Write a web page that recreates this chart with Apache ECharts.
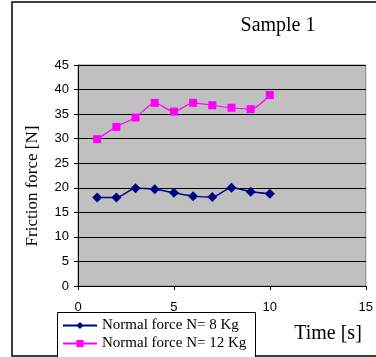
<!DOCTYPE html>
<html><head><meta charset="utf-8">
<script src="https://cdn.jsdelivr.net/npm/echarts@6/dist/echarts.min.js"></script>
<style>html,body{margin:0;padding:0;background:#fff}#c{width:376px;height:357px}</style>
</head><body><div id="c"></div>
<script>
var times = [1, 2, 3, 4, 5, 6, 7, 8, 9, 10];
var force8 = [18.0, 18.0, 19.9, 19.7, 19.0, 18.3, 18.1, 20.0, 19.2, 18.8];
var force12 = [29.9, 32.4, 34.3, 37.3, 35.5, 37.3, 36.8, 36.3, 36.0, 38.9];
var seriesNames = ['Normal force N= 8 Kg', 'Normal force N= 12 Kg'];
var xTicks = [0, 5, 10, 15];
var yTicks = [0, 5, 10, 15, 20, 25, 30, 35, 40, 45];

function pairs(xs, ys) { return xs.map(function (x, i) { return [x, ys[i]]; }); }

var chart = echarts.init(document.getElementById('c'));
chart.setOption({
  animation: false,
  backgroundColor: '#fff',
  title: [{
    text: 'Sample 1', left: 273, top: 11, textAlign: 'center',
    textStyle: { fontFamily: 'Liberation Serif', fontSize: 20, fontWeight: 'normal', color: '#000' }
  }, {
    text: 'Time [s]', left: 323, top: 319, textAlign: 'center',
    textStyle: { fontFamily: 'Liberation Serif', fontSize: 20, fontWeight: 'normal', color: '#000' }
  }],
  graphic: [{
    type: 'rect', shape: { x: 12, y: 2, width: 420, height: 354 },
    style: { fill: 'none', stroke: '#000', lineWidth: 1.5 }, silent: true, z: -1
  }, {
    type: 'rect', shape: { x: 57.5, y: 312.5, width: 198, height: 60 },
    style: { fill: '#fff', stroke: '#000', lineWidth: 1 }, silent: true, z: 1
  }, {
    type: 'text', x: 33, y: 186, rotation: Math.PI / 2,
    style: { text: 'Friction force [N]', font: '17px "Liberation Serif"', fill: '#000', textAlign: 'center', textVerticalAlign: 'middle' }
  }],
  legend: {
    orient: 'vertical', left: 57, top: 312, z: 10,
    padding: [6, 8, 0, 5], itemGap: 3, itemWidth: 34, itemHeight: 9,
    textStyle: { fontFamily: 'Liberation Serif', fontSize: 15, color: '#000' },
    data: seriesNames
  },
  grid: { left: 78, right: 4, top: 65, bottom: 71, show: true, backgroundColor: '#C0C0C0', borderColor: '#808080', borderWidth: 1 },
  xAxis: {
    type: 'value', min: xTicks[0], max: xTicks[xTicks.length - 1], interval: 5,
    axisLine: { onZero: false, lineStyle: { color: '#000' } },
    axisTick: { show: true, length: 4, lineStyle: { color: '#000' } },
    axisLabel: { fontFamily: 'Liberation Sans', fontSize: 13, color: '#000', margin: 15 },
    splitLine: { show: false }
  },
  yAxis: {
    type: 'value', min: yTicks[0], max: yTicks[yTicks.length - 1], interval: 5,
    axisLine: { show: true, lineStyle: { color: '#000' } },
    axisTick: { show: true, length: 4, lineStyle: { color: '#000' } },
    axisLabel: { fontFamily: 'Liberation Sans', fontSize: 13, color: '#000', margin: 9 },
    splitLine: { show: true, lineStyle: { color: '#000', width: 1 } }
  },
  series: [{
    name: seriesNames[0], type: 'line', data: pairs(times, force8), smooth: 0.25,
    symbol: 'diamond', symbolSize: 10,
    itemStyle: { color: '#000080' }, lineStyle: { color: '#000080', width: 1.5 }
  }, {
    name: seriesNames[1], type: 'line', data: pairs(times, force12), smooth: 0.25,
    symbol: 'rect', symbolSize: 8,
    itemStyle: { color: '#FF00FF' }, lineStyle: { color: '#FF00FF', width: 1.2 }
  }]
});
</script></body></html>
